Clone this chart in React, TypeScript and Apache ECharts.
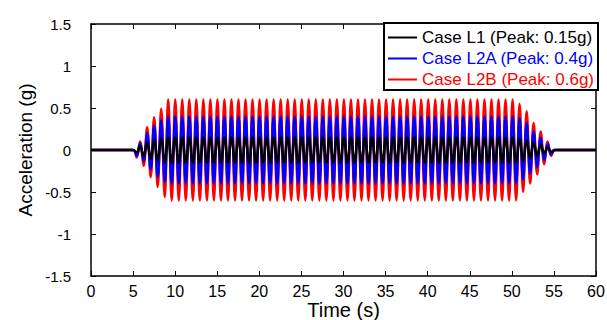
import React, { useEffect, useRef } from "react";
import * as echarts from "echarts";

// Time of each successive trough / peak of the oscillation (s)
const extremaTimes = [
  5.42, 5.83, 6.25, 6.67, 7.09, 7.5, 7.92, 8.34, 8.76, 9.17,
  9.59, 10.01, 10.43, 10.84, 11.26, 11.68, 12.1, 12.51, 12.93, 13.35,
  13.77, 14.18, 14.6, 15.02, 15.44, 15.85, 16.27, 16.69, 17.11, 17.52,
  17.94, 18.36, 18.78, 19.19, 19.61, 20.03, 20.45, 20.86, 21.28, 21.7,
  22.12, 22.53, 22.95, 23.37, 23.79, 24.2, 24.62, 25.04, 25.46, 25.87,
  26.29, 26.71, 27.13, 27.54, 27.96, 28.38, 28.8, 29.21, 29.63, 30.05,
  30.47, 30.88, 31.3, 31.72, 32.14, 32.55, 32.97, 33.39, 33.81, 34.22,
  34.64, 35.06, 35.48, 35.89, 36.31, 36.73, 37.15, 37.56, 37.98, 38.4,
  38.82, 39.23, 39.65, 40.07, 40.49, 40.9, 41.32, 41.74, 42.16, 42.57,
  42.99, 43.41, 43.83, 44.24, 44.66, 45.08, 45.5, 45.91, 46.33, 46.75,
  47.17, 47.58, 48.0, 48.42, 48.84, 49.25, 49.67, 50.09, 50.51, 50.92,
  51.34, 51.76, 52.18, 52.59, 53.01, 53.43, 53.85, 54.26, 54.68,
];

// Quiet (zero) stretches before and after the shaking (s)
const quietBefore = [0, 5.0];
const quietAfter = [55.1, 60];

// Amplitude (g) of each trough / peak, per case (troughs first, alternating)
const ampL1 = [
  0.03, 0.05, 0.07, 0.09, 0.11, 0.12, 0.13, 0.14, 0.15, 0.15,
  0.15, 0.15, 0.15, 0.15, 0.15, 0.15, 0.15, 0.15, 0.15, 0.15,
  0.15, 0.15, 0.15, 0.15, 0.15, 0.15, 0.15, 0.15, 0.15, 0.15,
  0.15, 0.15, 0.15, 0.15, 0.15, 0.15, 0.15, 0.15, 0.15, 0.15,
  0.15, 0.15, 0.15, 0.15, 0.15, 0.15, 0.15, 0.15, 0.15, 0.15,
  0.15, 0.15, 0.15, 0.15, 0.15, 0.15, 0.15, 0.15, 0.15, 0.15,
  0.15, 0.15, 0.15, 0.15, 0.15, 0.15, 0.15, 0.15, 0.15, 0.15,
  0.15, 0.15, 0.15, 0.15, 0.15, 0.15, 0.15, 0.15, 0.15, 0.15,
  0.15, 0.15, 0.15, 0.15, 0.15, 0.15, 0.15, 0.15, 0.15, 0.15,
  0.15, 0.15, 0.15, 0.15, 0.15, 0.15, 0.15, 0.15, 0.15, 0.15,
  0.15, 0.15, 0.15, 0.15, 0.15, 0.15, 0.15,
  0.15, 0.15, 0.14, 0.13, 0.12, 0.1, 0.09, 0.07, 0.06, 0.04, 0.03, 0.02,
];

const ampL2A = [
  0.07, 0.08, 0.13, 0.2, 0.23, 0.29, 0.32, 0.35, 0.38, 0.4,
  0.4, 0.4, 0.4, 0.4, 0.4, 0.4, 0.4, 0.4, 0.4, 0.4,
  0.4, 0.4, 0.4, 0.4, 0.4, 0.4, 0.4, 0.4, 0.4, 0.4,
  0.4, 0.4, 0.4, 0.4, 0.4, 0.4, 0.4, 0.4, 0.4, 0.4,
  0.4, 0.4, 0.4, 0.4, 0.4, 0.4, 0.4, 0.4, 0.4, 0.4,
  0.4, 0.4, 0.4, 0.4, 0.4, 0.4, 0.4, 0.4, 0.4, 0.4,
  0.4, 0.4, 0.4, 0.4, 0.4, 0.4, 0.4, 0.4, 0.4, 0.4,
  0.4, 0.4, 0.4, 0.4, 0.4, 0.4, 0.4, 0.4, 0.4, 0.4,
  0.4, 0.4, 0.4, 0.4, 0.4, 0.4, 0.4, 0.4, 0.4, 0.4,
  0.4, 0.4, 0.4, 0.4, 0.4, 0.4, 0.4, 0.4, 0.4, 0.4,
  0.4, 0.4, 0.4, 0.4, 0.4, 0.4, 0.4,
  0.4, 0.4, 0.38, 0.35, 0.32, 0.28, 0.22, 0.2, 0.15, 0.12, 0.07, 0.05,
];

const ampL2B = [
  0.09, 0.1, 0.19, 0.27, 0.32, 0.39, 0.44, 0.49, 0.56, 0.6,
  0.6, 0.6, 0.6, 0.6, 0.6, 0.6, 0.6, 0.6, 0.6, 0.6,
  0.6, 0.6, 0.6, 0.6, 0.6, 0.6, 0.6, 0.6, 0.6, 0.6,
  0.6, 0.6, 0.6, 0.6, 0.6, 0.6, 0.6, 0.6, 0.6, 0.6,
  0.6, 0.6, 0.6, 0.6, 0.6, 0.6, 0.6, 0.6, 0.6, 0.6,
  0.6, 0.6, 0.6, 0.6, 0.6, 0.6, 0.6, 0.6, 0.6, 0.6,
  0.6, 0.6, 0.6, 0.6, 0.6, 0.6, 0.6, 0.6, 0.6, 0.6,
  0.6, 0.6, 0.6, 0.6, 0.6, 0.6, 0.6, 0.6, 0.6, 0.6,
  0.6, 0.6, 0.6, 0.6, 0.6, 0.6, 0.6, 0.6, 0.6, 0.6,
  0.6, 0.6, 0.6, 0.6, 0.6, 0.6, 0.6, 0.6, 0.6, 0.6,
  0.6, 0.6, 0.6, 0.6, 0.6, 0.6, 0.6,
  0.6, 0.6, 0.55, 0.5, 0.46, 0.4, 0.32, 0.29, 0.22, 0.17, 0.1, 0.07,
];

const seriesNames = [
  "Case L1 (Peak: 0.15g)",
  "Case L2A (Peak: 0.4g)",
  "Case L2B (Peak: 0.6g)",
];
const seriesColors = ["#000000", "#0000ff", "#ff0000"];

const FONT = '"Liberation Sans", Arial, Helvetica, sans-serif';

function buildData(amps: number[]): number[][] {
  const d: number[][] = quietBefore.map((t) => [t, 0]);
  const n = Math.min(amps.length, extremaTimes.length);
  for (let i = 0; i < n; i++) {
    d.push([extremaTimes[i], i % 2 === 0 ? -amps[i] : amps[i]]);
  }
  quietAfter.forEach((t) => d.push([t, 0]));
  return d;
}

export default function App() {
  const ref = useRef<HTMLDivElement>(null);

  useEffect(() => {
    document.body.style.margin = "0";
    if (!ref.current) return;
    const chart = echarts.init(ref.current, undefined, { renderer: "svg" });

    const axisCommon = {
      axisLine: { show: true, onZero: false, lineStyle: { color: "#000", width: 1.5 } },
      axisTick: { show: true, inside: true, length: 5, lineStyle: { color: "#000", width: 1 } },
      splitLine: { show: false },
    };

    const amps = [ampL1, ampL2A, ampL2B];
    const order = [2, 1, 0]; // red underneath, black on top

    chart.setOption({
      animation: false,
      backgroundColor: "#fff",
      textStyle: { fontFamily: FONT },
      grid: {
        left: 91,
        right: 11,
        top: 24,
        bottom: 44,
        containLabel: false,
        outerBoundsMode: "none",
      },
      legend: {
        orient: "vertical",
        right: 9,
        top: 23,
        backgroundColor: "#fff",
        borderColor: "#000",
        borderWidth: 2,
        borderRadius: 0,
        padding: [6, 4, 2, 4],
        itemGap: 4,
        itemWidth: 29,
        itemHeight: 2,
        icon: "rect",
        textStyle: { fontFamily: FONT, fontSize: 17 },
        data: seriesNames.map((n, i) => ({
          name: n,
          textStyle: { color: seriesColors[i] },
        })),
      },
      xAxis: [
        {
          type: "value",
          min: 0,
          max: 60,
          interval: 5,
          position: "bottom",
          name: "Time (s)",
          nameLocation: "middle",
          nameGap: 25,
          nameMoveOverlap: false,
          nameTextStyle: { fontFamily: FONT, fontSize: 20, color: "#000", lineHeight: 18 },
          axisLabel: { fontFamily: FONT, fontSize: 16, color: "#000", margin: 7, lineHeight: 16 },
          ...axisCommon,
        },
        {
          type: "value",
          min: 0,
          max: 60,
          interval: 5,
          position: "top",
          axisLabel: { show: false },
          ...axisCommon,
        },
      ],
      yAxis: [
        {
          type: "value",
          min: -1.5,
          max: 1.5,
          interval: 0.5,
          position: "left",
          name: "Acceleration (g)",
          nameLocation: "middle",
          nameGap: 56,
          nameMoveOverlap: false,
          nameTextStyle: { fontFamily: FONT, fontSize: 19, color: "#000" },
          axisLabel: { fontFamily: FONT, fontSize: 15, color: "#000", margin: 20 },
          ...axisCommon,
        },
        {
          type: "value",
          min: -1.5,
          max: 1.5,
          interval: 0.5,
          position: "right",
          axisLabel: { show: false },
          ...axisCommon,
        },
      ],
      series: order.map((i) => ({
        name: seriesNames[i],
        type: "line",
        xAxisIndex: 0,
        yAxisIndex: 0,
        data: buildData(amps[i]),
        showSymbol: false,
        smooth: 0.4,
        lineStyle: { color: seriesColors[i], width: 2.5 },
        itemStyle: { color: seriesColors[i] },
        z: 2 + (2 - i),
      })),
    });

    return () => chart.dispose();
  }, []);

  return <div ref={ref} style={{ width: 607, height: 320 }} />;
}
